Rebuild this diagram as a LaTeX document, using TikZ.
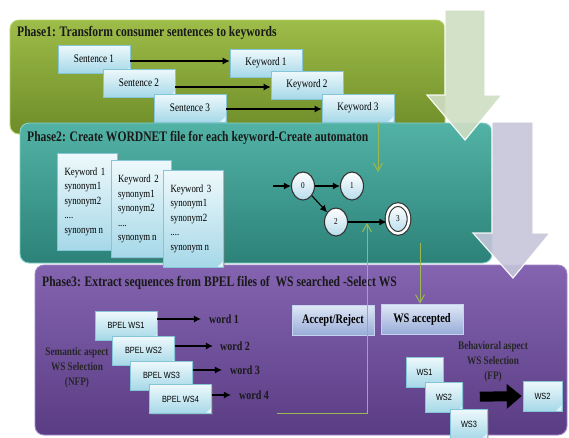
\documentclass[tikz,border=0pt]{standalone}
\usepackage{fontspec}
\setmainfont{Liberation Serif}[FakeStretch=0.8]
\newfontfamily\sansc{Liberation Sans}[FakeStretch=0.82]
\usetikzlibrary{arrows.meta,shapes.geometric,shadows,calc}
\definecolor{gTop}{HTML}{9DBC48}
\definecolor{gBot}{HTML}{6E8C28}
\definecolor{gEdge}{HTML}{B8D270}
\definecolor{tTop}{HTML}{52B2A6}
\definecolor{tBot}{HTML}{2C8278}
\definecolor{tEdge}{HTML}{86D0C6}
\definecolor{pTop}{HTML}{8464B0}
\definecolor{pBot}{HTML}{5A3C84}
\definecolor{pEdge}{HTML}{A288CC}
\definecolor{boxTop}{HTML}{EEF9FC}
\definecolor{boxBot}{HTML}{A6D8E8}
\definecolor{boxEdge}{HTML}{86C4D8}
\definecolor{accTop}{HTML}{E0E8F6}
\definecolor{accBot}{HTML}{98ACD8}
\definecolor{accEdge}{HTML}{C4D2EE}
\definecolor{stBlue}{HTML}{B8DCEC}
\definecolor{lineG}{HTML}{9CB850}
\definecolor{arrA}{HTML}{D0DEC4}
\definecolor{arrB}{HTML}{C6C6DA}
\begin{document}
\begin{tikzpicture}[x=1pt,y=-1pt,
  panel/.style={rounded corners=9pt, line width=0.9pt},
  ptitle/.style={anchor=west, inner sep=0pt, text=black!90,
    font=\bfseries\fontsize{14.5}{16}\selectfont},
  cbox/.style={draw=boxEdge, line width=0.6pt, top color=boxTop, bottom color=boxBot,
    drop shadow={shadow xshift=1.2pt, shadow yshift=-1.2pt, opacity=0.35},
    inner sep=1pt,
    path picture={\fill[white!70!boxBot]
      ($(path picture bounding box.south east)+(-6pt,0pt)$) --
      ($(path picture bounding box.south east)+(0pt,6pt)$) --
      ($(path picture bounding box.south east)+(-1pt,-0.5pt)$) -- cycle;}},
  sbox/.style={cbox, minimum width=72pt, minimum height=28pt,
    font=\fontsize{11.5}{13}\selectfont},
  doc/.style={cbox, minimum width=60pt, minimum height=97pt, text width=46pt,
    inner xsep=7pt, align=left, font=\fontsize{11}{14.5}\selectfont},
  bbox/.style={cbox, minimum width=62pt, minimum height=29pt,
    font=\sansc\fontsize{9}{10}\selectfont},
  wbox/.style={cbox, minimum width=37pt, minimum height=30pt,
    font=\sansc\fontsize{9}{10}\selectfont},
  abox/.style={draw=accEdge, line width=0.8pt, top color=accTop, bottom color=accBot,
    drop shadow={shadow xshift=1.2pt, shadow yshift=-1.2pt, opacity=0.35},
    minimum width=82pt, minimum height=30pt, inner sep=1pt,
    font=\bfseries\fontsize{13}{14}\selectfont},
  word/.style={inner sep=2pt, font=\bfseries\fontsize{12.5}{14}\selectfont, text=black!90},
  aspect/.style={align=center, inner sep=0pt, text=black!85,
    font=\bfseries\fontsize{11.5}{15}\selectfont},
  state/.style={ellipse, draw=black!80, line width=1.1pt, minimum width=23pt,
    minimum height=28pt, inner sep=0pt, top color=white, bottom color=stBlue,
    font=\fontsize{9}{10}\selectfont},
  blk/.style={line width=1.1pt, -{Latex[length=7pt,width=7pt]}},
  grn/.style={draw=lineG, line width=1pt, -{Straight Barb[length=8pt,width=9pt]}},
  bigarrow/.style={line width=1.2pt, draw=white, opacity=0.9}
]
\useasboundingbox (0,0) rectangle (569,437);
\fill[white] (0,0) rectangle (569,437);

% panels
\path[panel, draw=gEdge, top color=gTop, bottom color=gBot] (10,20) rectangle (445,134);
\path[panel, draw=tEdge, top color=tTop, bottom color=tBot] (20,123) rectangle (492,263);
\path[panel, draw=pEdge, top color=pTop, bottom color=pBot] (35,265) rectangle (567,435);

% big arrows
\filldraw[bigarrow, fill=arrA] (445,10) -- (485,10) -- (485,95) -- (502,95) -- (465,140)
  -- (427,95) -- (445,95) -- cycle;
\filldraw[bigarrow, fill=arrB] (492,122) -- (533,122) -- (533,233) -- (550,233) -- (513,278)
  -- (473,233) -- (492,233) -- cycle;

% titles
\node[ptitle] (t1) at (17,33) {Phase1: Transform consumer sentences to keywords};
\node[ptitle] (t2) at (27,138) {Phase2: Create WORDNET file for each keyword-Create automaton};
\node[ptitle] (t3) at (42,283) {Phase3: Extract sequences from BPEL files of \ WS searched -Select WS};

% phase 1
\node[sbox] (s1) at (94,59) {Sentence 1};
\node[sbox] (k1) at (266,63) {Keyword 1};
\node[sbox] (s2) at (139,83) {Sentence 2};
\node[sbox] (k2) at (307,85) {Keyword 2};
\node[sbox] (s3) at (190,108) {Sentence 3};
\node[sbox] (k3) at (358,108) {Keyword 3};
\draw[blk] (s1.east |- 0,61) -- (k1.west |- 0,61);
\draw[blk] (s2.east |- 0,87) -- (k2.west |- 0,87);
\draw[blk] (s3.east |- 0,109) -- (k3.west |- 0,109);

% phase 2 documents
\node[doc] (d1) at (87.5,201.5) {Keyword 1\\synonym1\\synonym2\\....\\synonym\,n};
\node[doc] (d2) at (141,209) {Keyword 2\\synonym1\\synonym2\\....\\synonym\,n};
\node[doc] (d3) at (193.5,218.5) {Keyword 3\\synonym1\\synonym2\\....\\synonym\,n};

% automaton
\node[state] (q0) at (303,186) {0};
\node[state] (q1) at (352,186) {1};
\node[state] (q2) at (336,222) {2};
\node[state, double=white, double distance=2.5pt, minimum width=22pt, minimum height=29pt] (q3) at (398,219) {3};
\coordinate (init) at (273,186);
\draw[blk] (init) -- (q0);
\draw[blk] (q0) -- (q1);
\draw[blk] (q0) -- (q2);
\draw[blk] (q2.east) -- (q3.west |- q2.east);

% phase 3
\node[bbox] (b1) at (126,325.5) {BPEL WS1};
\node[word] (w1) at (224,319) {word 1};
\node[bbox] (b2) at (143.5,350.5) {BPEL WS2};
\node[word] (w2) at (235,346) {word 2};
\node[bbox] (b3) at (161.5,375.5) {BPEL WS3};
\node[word] (w3) at (245,370) {word 3};
\node[bbox] (b4) at (180.5,399) {BPEL WS4};
\node[word] (w4) at (254,395) {word 4};
\draw[blk] (w1 -| b1.east) -- ([xshift=-6pt]w1.west);
\draw[blk] (w2 -| b2.east) -- ([xshift=-5pt]w2.west);
\draw[blk] (w3 -| b3.east) -- ([xshift=-6pt]w3.west);
\draw[blk] (w4 -| b4.east) -- ([xshift=-6pt]w4.west);

\node[aspect] (sem) at (77,368) {Semantic aspect\\WS Selection\\(NFP)};

\node[abox] (acc) at (333,320) {Accept/Reject};
\node[abox] (wsa) at (422,319) {WS accepted};

\node[aspect] (beh) at (493,362) {Behavioral aspect\\WS Selection\\(FP)};

\node[wbox] (ws1) at (424.5,372) {WS1};
\node[wbox] (ws2) at (444,397) {WS2};
\node[wbox] (ws3) at (469,424) {WS3};
\node[wbox, minimum width=39pt] (wsr) at (542.5,396) {WS2};
\draw[line width=10pt, -{Triangle[length=15pt,width=24pt]}, shorten <=17pt, shorten >=1pt]
  (ws2.east) -- (wsr.west);

% green connectors
\coordinate (ga) at (378,172);
\draw[grn] (k3.south -| ga) -- (ga);
\coordinate (gs) at (277,413);
\coordinate (gc) at (367,413);
\coordinate (ge) at (367,223);
\draw[grn] (gs) -- (gc) -- (ge);
\coordinate (gd) at (420,243);
\draw[grn] (gd) -- (gd |- wsa.north);
\end{tikzpicture}
\end{document}
